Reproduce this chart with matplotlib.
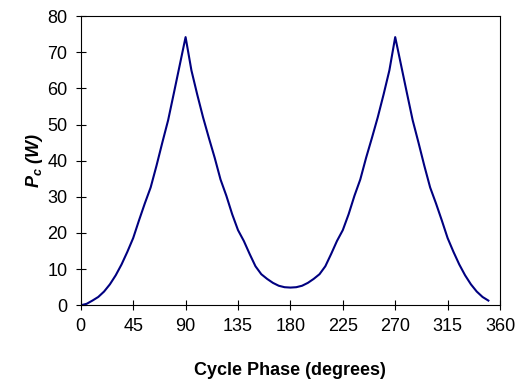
import matplotlib
matplotlib.use("Agg")
import matplotlib.pyplot as plt

# Cycle phase in degrees and power values
phase = list(range(0, 355, 5))
power = [0.0, 0.4, 1.3, 2.3, 3.8, 5.8, 8.3, 11.3, 14.8, 18.6,
         23.5, 28.2, 32.6, 38.6, 45.0, 51.2, 58.8, 66.5, 74.2, 65.0,
         58.3, 52.0, 46.3, 40.8, 34.8, 30.3, 25.2, 20.8, 17.8, 14.2,
         10.8, 8.6, 7.3, 6.2, 5.4, 5.0, 4.9, 5.0, 5.4, 6.2,
         7.3, 8.6, 10.8, 14.2, 17.8, 20.8, 25.2, 30.3, 34.8, 40.8,
         46.3, 52.0, 58.3, 65.0, 74.2, 66.5, 58.8, 51.2, 45.0, 38.6,
         32.6, 28.2, 23.5, 18.6, 14.8, 11.3, 8.3, 5.8, 3.8, 2.3,
         1.3]
x_ticks = list(range(0, 361, 45))
y_ticks = list(range(0, 81, 10))

plt.rcParams['font.family'] = ['Liberation Sans', 'DejaVu Sans']
plt.rcParams['mathtext.fontset'] = 'custom'
plt.rcParams['mathtext.it'] = 'Liberation Sans:italic:bold'
plt.rcParams['mathtext.rm'] = 'Liberation Sans:bold'

fig = plt.figure(figsize=(5.28, 3.84), dpi=100)
ax = fig.add_axes([0.153, 0.205, 0.794, 0.753])
ax.plot(phase, power, color='#000080', linewidth=1.5)

ax.set_xlim(0, 360)
ax.set_ylim(0, 80)
ax.set_xticks(x_ticks)
ax.set_yticks(y_ticks)
ax.tick_params(direction='inout', length=7, width=0.8, labelsize=13, pad=6)
for s in ax.spines.values():
    s.set_linewidth(0.8)

ax.set_xlabel('Cycle Phase (degrees)', fontsize=13, fontweight='bold', labelpad=19)
ax.set_ylabel(r'$P_c$ (W)', fontsize=13, fontweight='bold', style='italic', labelpad=2)

fig.savefig('out.png', dpi=100)
